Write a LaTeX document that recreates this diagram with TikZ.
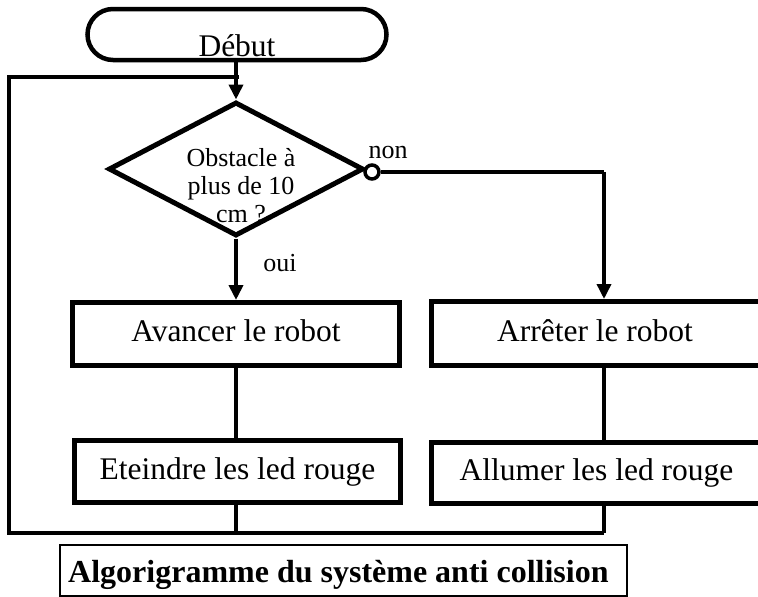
\documentclass[tikz,border=0pt]{standalone}
\usepackage{fontspec}
\setmainfont{Liberation Serif}
\usetikzlibrary{shapes.geometric,shapes.misc,arrows.meta}
\newcommand\bigtxt{\fontsize{31.5}{36}\selectfont}
\newcommand\titletxt{\fontsize{32}{36}\selectfont}
\newcommand\smalltxt{\fontsize{26}{28}\selectfont}
\begin{document}
\begin{tikzpicture}[x=1pt,y=-1pt,
  box/.style={draw,rectangle,line width=5pt,inner sep=0pt,font=\bigtxt,text height=22pt,text depth=7pt},
  conn/.style={line width=3.5pt},
  heavy/.style={line width=4.5pt},
  arr/.style={-{Triangle[length=15pt,width=14pt]}},
  lbl/.style={font=\smalltxt,inner sep=0pt,anchor=base}]
\useasboundingbox (0,0) rectangle (758,597);
\clip (0,0) rectangle (758,597);
% nodes
\node[draw,rounded rectangle,line width=4.5pt,minimum width=299pt,minimum height=51pt,inner sep=0pt,
      font=\bigtxt,text height=43pt,text depth=0pt] (start) at (237,34.5) {Début};
\node[draw,diamond,line width=5pt,minimum width=255pt,minimum height=134pt,inner sep=0pt] (dec) at (236,169) {};
\node[font=\smalltxt,align=center,inner sep=0pt] (dectext) at (241,186) {Obstacle à\\plus de 10\\cm ?};
\node[draw,circle,line width=3.5pt,minimum size=14pt,inner sep=0pt] (ring) at (372,172) {};
\node[lbl] (non) at (388,158) {non};
\node[lbl] (oui) at (280,271) {oui};
\node[box,minimum width=327pt,minimum height=63pt] (avancer) at (236,334) {Avancer le robot};
\node[box,minimum width=338pt,minimum height=64pt,xshift=0pt] (arreter) at (600,333.5) {\hspace*{-10pt}Arrêter le robot};
\node[box,minimum width=326pt,minimum height=62pt] (eteindre) at (237.5,471.5) {Eteindre les led rouge};
\node[box,minimum width=338pt,minimum height=61pt] (allumer) at (600,473) {\hspace*{-7pt}Allumer les led rouge};
\node[font=\bfseries\titletxt,inner sep=0pt,anchor=base west] (title) at (68,582)
      {Algorigramme du système anti collision};
\draw[line width=2.2pt] (60,545) rectangle (627,596);
% coordinates
\coordinate (ltop) at (9,77);
\coordinate (lbot) at (9,533);
\coordinate (rcol) at (604,172);
% connectors
\draw[heavy,arr] (start.south -| dec.north) -- (dec.north);
\draw[heavy] (ltop -| dec.north) ++(3,0) -- (ltop) -- (lbot) -- (lbot -| rcol);
\draw[heavy,arr] (dec.south) -- (avancer.north -| dec.south);
\draw[conn] (ring.east) -- (rcol);
\draw[conn,arr] (rcol) -- (rcol |- arreter.north);
\draw[conn] (avancer.south -| dec.south) -- (eteindre.north -| dec.south);
\draw[conn] (arreter.south -| rcol) -- (allumer.north -| rcol);
\draw[heavy] (eteindre.south -| dec.south) -- (lbot -| dec.south);
\draw[heavy] (allumer.south -| rcol) -- (lbot -| rcol);
\end{tikzpicture}
\end{document}
